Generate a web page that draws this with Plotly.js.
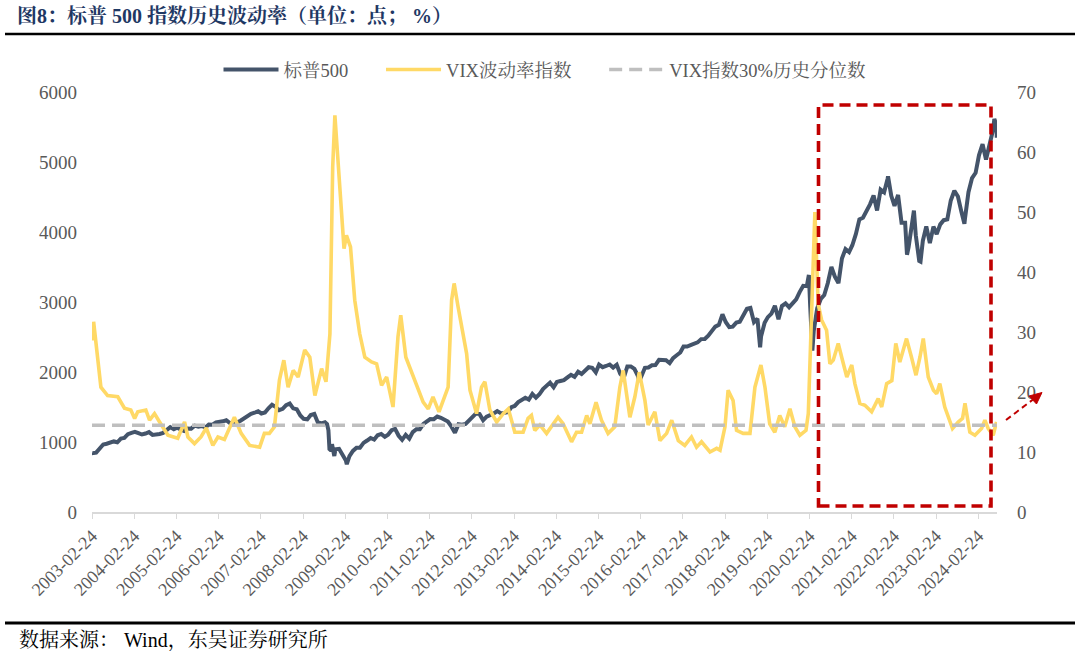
<!DOCTYPE html>
<html>
<head>
<meta charset="utf-8">
<script src="https://cdn.plot.ly/plotly-3.0.1.min.js"></script>
<style>html,body{margin:0;padding:0;background:#fff;}#chart{width:1080px;height:655px;}</style>
</head>
<body>
<div id="chart"></div>
<script>
// ---------------- DATA ----------------
const seriesNames = ["标普500", "VIX波动率指数", "VIX指数30%历史分位数"];

const spxDates = [
"2003-02-24","2003-03","2003-04","2003-05","2003-06","2003-07","2003-08","2003-09","2003-10","2003-11","2003-12",
"2004-01","2004-02","2004-03","2004-04","2004-05","2004-06","2004-07","2004-08","2004-09","2004-10","2004-11","2004-12",
"2005-01","2005-02","2005-03","2005-04","2005-05","2005-06","2005-07","2005-08","2005-09","2005-10","2005-11","2005-12",
"2006-01","2006-02","2006-03","2006-04","2006-05","2006-06","2006-07","2006-08","2006-09","2006-10","2006-11","2006-12",
"2007-01","2007-02","2007-03","2007-04","2007-05","2007-06","2007-07","2007-08","2007-09","2007-10","2007-11","2007-12",
"2008-01","2008-02","2008-03","2008-04","2008-05","2008-06","2008-07","2008-08","2008-09","2008-09-19","2008-10","2008-10-10","2008-10-24","2008-11","2008-11-21","2008-12",
"2009-01","2009-02","2009-03","2009-03-09","2009-04","2009-05","2009-06","2009-07","2009-08","2009-09","2009-10","2009-11","2009-12",
"2010-01","2010-02","2010-03","2010-04","2010-05","2010-06","2010-07","2010-08","2010-09","2010-10","2010-11","2010-12",
"2011-01","2011-02","2011-03","2011-04","2011-05","2011-06","2011-07","2011-08","2011-09","2011-10","2011-11","2011-12",
"2012-01","2012-02","2012-03","2012-04","2012-05","2012-06","2012-07","2012-08","2012-09","2012-10","2012-11","2012-12",
"2013-01","2013-02","2013-03","2013-04","2013-05","2013-06","2013-07","2013-08","2013-09","2013-10","2013-11","2013-12",
"2014-01","2014-02","2014-03","2014-04","2014-05","2014-06","2014-07","2014-08","2014-09","2014-10","2014-11","2014-12",
"2015-01","2015-02","2015-03","2015-04","2015-05","2015-06","2015-07","2015-08","2015-09","2015-10","2015-11","2015-12",
"2016-01","2016-02","2016-02-12","2016-03","2016-04","2016-05","2016-06","2016-07","2016-08","2016-09","2016-10","2016-11","2016-12",
"2017-01","2017-02","2017-03","2017-04","2017-05","2017-06","2017-07","2017-08","2017-09","2017-10","2017-11","2017-12",
"2018-01","2018-02","2018-03","2018-04","2018-05","2018-06","2018-07","2018-08","2018-09","2018-10","2018-11","2018-12","2018-12-24",
"2019-01","2019-02","2019-03","2019-04","2019-05","2019-06","2019-07","2019-08","2019-09","2019-10","2019-11","2019-12",
"2020-01","2020-02","2020-02-19","2020-03","2020-03-20","2020-04","2020-05","2020-06","2020-07","2020-08","2020-09","2020-10","2020-11","2020-12",
"2021-01","2021-02","2021-03","2021-04","2021-05","2021-06","2021-07","2021-08","2021-09","2021-10","2021-11","2021-12",
"2022-01","2022-01-04","2022-02","2022-03","2022-04","2022-05","2022-06","2022-06-17","2022-07","2022-08","2022-08-16","2022-09","2022-10","2022-10-12","2022-11","2022-12",
"2023-01","2023-02","2023-03","2023-04","2023-05","2023-06","2023-07","2023-08","2023-09","2023-10","2023-10-27","2023-11","2023-12",
"2024-01","2024-02","2024-03","2024-04","2024-05","2024-06","2024-07","2024-07-12","2024-08-01","2024-08-02"
];
const spxValues = [
850,841,848,916,964,975,990,1008,996,1050,1058,
1112,1131,1145,1126,1107,1121,1141,1101,1104,1115,1130,1174,
1212,1181,1204,1181,1157,1192,1191,1234,1220,1229,1207,1249,
1248,1280,1281,1295,1311,1270,1270,1277,1304,1336,1378,1401,
1418,1438,1407,1421,1482,1531,1503,1455,1474,1527,1549,1481,
1468,1379,1331,1323,1386,1400,1280,1267,1283,1255,1166,899,877,969,800,896,
903,826,735,683,798,873,919,919,987,1021,1057,1036,1096,
1115,1074,1104,1169,1187,1089,1031,1102,1049,1141,1183,1181,
1258,1286,1327,1326,1364,1345,1321,1292,1219,1131,1253,1247,
1258,1312,1366,1408,1398,1310,1362,1379,1407,1441,1412,1416,
1426,1498,1515,1569,1598,1631,1606,1686,1633,1682,1757,1806,
1848,1783,1859,1872,1884,1924,1960,1931,2003,1972,2018,2068,
2059,1995,2105,2068,2086,2107,2063,2104,1972,1920,2079,2080,
2044,1940,1865,1932,2060,2065,2097,2099,2174,2171,2168,2126,2199,
2239,2279,2364,2363,2384,2412,2423,2470,2472,2519,2575,2648,
2674,2824,2714,2641,2648,2705,2718,2816,2902,2914,2712,2760,2351,
2507,2704,2784,2834,2946,2752,2942,2980,2926,2977,3038,3141,
3231,3226,3386,2954,2305,2585,2912,3044,3100,3271,3500,3363,3270,3622,
3756,3714,3811,3973,4181,4204,4298,4395,4523,4308,4605,4567,
4766,4796,4516,4374,4530,4132,4132,3675,3785,4130,4305,3955,3586,3577,3872,4080,
3840,4077,3970,4109,4169,4180,4450,4589,4508,4288,4117,4194,4568,
4770,4846,5096,5254,5036,5278,5460,5615,5522,5346
];

const vixDates = [
"2003-02-24","2003-03-10","2003-05-12","2003-07-09","2003-10-05","2003-12-02",
"2004-01-26","2004-02-28","2004-03-26","2004-06-04","2004-07-06","2004-08-18","2004-10-01","2004-12-12",
"2005-03-07","2005-05-05","2005-06-03","2005-07-30","2005-09-24","2005-11-09",
"2006-01-05","2006-02-18","2006-04-15","2006-07-10","2006-09-07","2006-11-19",
"2007-02-14","2007-03-27","2007-05-09","2007-06-22","2007-08-04","2007-09-11","2007-10-18","2007-12-01",
"2008-01-13","2008-03-10","2008-04-23","2008-06-06","2008-08-03","2008-09-10","2008-10-14","2008-11-07","2008-11-26","2008-12-25",
"2009-01-23","2009-02-13","2009-03-06","2009-04-10","2009-05-17","2009-06-29","2009-08-12","2009-10-09","2009-11-22",
"2010-01-04","2010-02-17","2010-04-13","2010-05-26","2010-06-19","2010-08-02","2010-09-21","2010-11-04","2010-12-30",
"2011-02-12","2011-03-25","2011-05-16","2011-06-26","2011-08-03","2011-09-02","2011-09-24","2011-10-28","2011-12-11",
"2012-01-10","2012-02-08","2012-04-05","2012-05-18","2012-06-16","2012-07-29","2012-09-26","2012-11-22",
"2013-01-05","2013-03-02","2013-05-13","2013-06-25","2013-07-24","2013-08-22","2013-10-05","2013-12-02",
"2014-01-15","2014-03-11","2014-04-24","2014-07-06","2014-08-18","2014-10-01","2014-11-14","2014-12-12",
"2015-02-03","2015-03-22","2015-05-18","2015-07-15","2015-08-28","2015-09-26","2015-11-23",
"2016-01-05","2016-02-12","2016-04-01","2016-04-29","2016-06-26","2016-08-09","2016-10-06","2016-11-19",
"2017-01-15","2017-03-12","2017-05-09","2017-06-22","2017-08-04","2017-10-16","2017-12-13",
"2018-01-11","2018-02-23","2018-03-22","2018-05-04","2018-06-03","2018-07-30","2018-09-27","2018-11-09","2018-12-31",
"2019-02-04","2019-03-17","2019-04-30","2019-06-12","2019-07-25","2019-09-08","2019-10-21","2019-12-03",
"2020-01-25","2020-02-14","2020-03-13","2020-04-11","2020-05-09","2020-06-08","2020-07-21","2020-08-19","2020-09-17","2020-10-30","2020-11-29",
"2021-01-12","2021-02-24","2021-03-23","2021-05-05","2021-06-18","2021-08-15","2021-10-11","2021-11-10","2021-12-23",
"2022-02-06","2022-03-12","2022-04-16","2022-06-13","2022-07-26","2022-09-03","2022-10-07","2022-11-05","2022-12-18",
"2023-02-01","2023-03-01","2023-03-28","2023-05-10","2023-06-08","2023-07-16","2023-09-03","2023-10-11","2023-11-01","2023-12-13",
"2024-01-26","2024-03-23","2024-04-21","2024-05-20","2024-07-02","2024-07-31"
];
const vixValues = [
28.6,31.7,20.8,19.4,19.2,17.3,
17.0,15.6,16.7,17.0,15.3,16.4,15.0,12.8,
12.3,15.0,12.5,11.4,12.5,14.0,
11.1,12.5,12.1,15.8,13.1,11.1,
10.8,13.1,13.1,14.2,22.0,25.3,20.8,23.6,
22.5,27.0,25.8,19.4,23.9,21.7,29.7,57.5,66.1,57.5,
48.0,43.9,46.1,44.2,35.3,29.7,25.8,25.0,24.7,
21.1,22.5,17.5,29.2,32.8,25.8,23.3,20.8,18.3,
17.2,19.2,16.7,18.9,20.8,35.3,38.1,34.2,29.7,
26.4,20.3,16.4,20.8,21.7,17.0,15.0,16.4,
17.2,13.3,13.3,15.6,16.1,13.6,14.5,13.1,
14.2,15.8,14.7,11.7,13.3,13.3,16.1,14.7,
18.3,15.3,13.1,14.2,20.8,23.6,15.8,
19.2,23.3,18.6,14.5,16.7,11.9,13.1,15.3,
11.9,11.1,12.5,10.8,11.7,10.0,10.6,
10.3,14.2,20.3,18.6,13.6,13.1,13.1,20.8,24.5,
20.8,14.7,13.3,16.1,14.2,17.2,14.2,12.8,
13.6,16.4,34.2,50.0,34.7,32.0,30.3,24.7,25.3,28.1,25.8,
22.5,24.5,21.4,18.1,17.8,16.7,18.9,17.5,21.4,
21.9,28.1,25.0,28.9,25.8,22.8,25.8,28.9,22.5,
20.3,19.7,21.4,17.5,15.8,13.9,15.0,15.6,18.1,13.3,
12.8,13.9,15.3,13.9,12.8,15.0
];

const pctDates = ["2003-02-24", "2024-08-02"];
const pctValues = [14.45, 14.45];

const xTickLabels = ["2003-02-24","2004-02-24","2005-02-24","2006-02-24","2007-02-24","2008-02-24","2009-02-24",
"2010-02-24","2011-02-24","2012-02-24","2013-02-24","2014-02-24","2015-02-24","2016-02-24","2017-02-24",
"2018-02-24","2019-02-24","2020-02-24","2021-02-24","2022-02-24","2023-02-24","2024-02-24"];
const leftTicks = [0,1000,2000,3000,4000,5000,6000];
const rightTicks = [0,10,20,30,40,50,60,70];

// ---------------- LAYOUT HELPERS ----------------
const W = 1080, H = 655;
const M = {l: 92, r: 83, t: 92, b: 143};
const PW = W - M.l - M.r, PH = H - M.t - M.b;
const px = v => (v - M.l) / PW;          // pixel x -> paper x
const py = v => (H - M.b - v) / PH;      // pixel y -> paper y

const serif = "'Liberation Serif', 'Times New Roman', 'Noto Serif CJK SC', 'Noto Sans CJK SC', serif";
const grayText = '#595959';
const red = '#C00000';
const legendGap = '\u00a0'.repeat(6);

const traces = [
  {x: spxDates, y: spxValues, name: seriesNames[0] + legendGap, type: 'scatter', mode: 'lines', yaxis: 'y',
   line: {color: '#44546A', width: 4}},
  {x: vixDates, y: vixValues, name: seriesNames[1] + legendGap, type: 'scatter', mode: 'lines', yaxis: 'y2',
   line: {color: '#FFD966', width: 3.6}},
  {x: pctDates, y: pctValues, name: seriesNames[2], type: 'scatter', mode: 'lines', yaxis: 'y2',
   line: {color: '#BFBFBF', width: 3.6, dash: '13px,7px'}}
];

const tip = [1042, 392.5];
const layout = {
  width: W, height: H,
  margin: {l: M.l, r: M.r, t: M.t, b: M.b, pad: 0},
  paper_bgcolor: '#ffffff', plot_bgcolor: '#ffffff',
  font: {family: serif, color: grayText},
  title: {
    text: '图8：标普 500 指数历史波动率（单位：点； %）',
    font: {family: serif, size: 20, color: '#1F3864', weight: 'bold'},
    xref: 'container', yref: 'container', x: 17 / W, xanchor: 'left', y: 1 - 16 / H, yanchor: 'middle'
  },
  showlegend: true,
  legend: {
    orientation: 'h', x: 0.5, xanchor: 'center', y: py(70), yanchor: 'middle',
    font: {family: serif, size: 18.5, color: grayText}, itemwidth: 55, traceorder: 'normal',
    bgcolor: 'rgba(0,0,0,0)'
  },
  xaxis: {
    type: 'date', range: ['2003-02-24', '2024-08-04'],
    tickmode: 'array', tickvals: xTickLabels, ticktext: xTickLabels, tickangle: -45,
    ticks: 'outside', ticklen: 5, tickwidth: 1, tickcolor: '#D9D9D9',
    showline: true, linecolor: '#D9D9D9', linewidth: 1.5,
    showgrid: false, zeroline: false, fixedrange: true,
    tickfont: {family: serif, size: 18, color: grayText}
  },
  yaxis: {
    range: [0, 6000], tickmode: 'array', tickvals: leftTicks, ticktext: leftTicks.map(String),
    showgrid: false, zeroline: false, showline: false, ticks: '', ticklabelstandoff: 14,
    tickfont: {family: serif, size: 19, color: grayText}, fixedrange: true
  },
  yaxis2: {
    range: [0, 70], overlaying: 'y', side: 'right', tickmode: 'array', tickvals: rightTicks, ticktext: rightTicks.map(String),
    showgrid: false, zeroline: false, showline: false, ticks: '', ticklabelstandoff: 19,
    tickfont: {family: serif, size: 19, color: grayText}, fixedrange: true
  },
  annotations: [
    {text: '数据来源： Wind，东吴证券研究所', xref: 'paper', yref: 'paper', x: px(17), y: py(640),
     xanchor: 'left', yanchor: 'middle', showarrow: false,
     font: {family: serif, size: 20, color: '#000000'}}
  ],
  shapes: [
    // header and footer rules
    {type: 'line', xref: 'paper', yref: 'paper', x0: px(5), x1: px(1075), y0: py(34), y1: py(34),
     line: {color: '#000000', width: 2.5}},
    {type: 'line', xref: 'paper', yref: 'paper', x0: px(5), x1: px(1075), y0: py(623), y1: py(623),
     line: {color: '#000000', width: 3}},
    // highlight box
    {type: 'rect', xref: 'paper', yref: 'paper', x0: px(818.5), x1: px(991), y0: py(506), y1: py(105),
     line: {color: red, width: 3.6, dash: '11px,6px'}, fillcolor: 'rgba(0,0,0,0)', layer: 'above'},
    // dashed arrow
    {type: 'line', xref: 'paper', yref: 'paper', x0: px(1006), y0: py(420), x1: px(1033), y1: py(399.5),
     line: {color: red, width: 2, dash: '6px,4px'}},
    {type: 'path', xref: 'paper', yref: 'paper',
     path: 'M' + px(tip[0]) + ',' + py(tip[1]) + ' L' + px(1029) + ',' + py(396) + ' L' + px(1036.5) + ',' + py(404) + ' Z',
     fillcolor: red, line: {color: red, width: 1}}
  ]
};

Plotly.newPlot('chart', traces, layout, {displayModeBar: false, staticPlot: true});
</script>
</body>
</html>
